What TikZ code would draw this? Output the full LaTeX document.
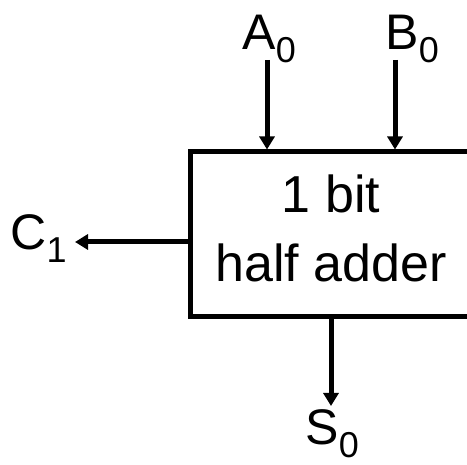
\documentclass[tikz,border=0pt]{standalone}
\usepackage{fontspec}
\setmainfont{Liberation Sans}
\usetikzlibrary{arrows.meta,positioning,calc}
\newcommand{\lowsub}[1]{\raisebox{-6.5pt}{\fontsize{18}{18}\selectfont #1}}
\tikzset{
  % Base style
  diagram base/.style={
    x=0.5pt, y=0.5pt,
    every node/.style={font=\fontsize{25}{30}\selectfont, inner sep=0pt},
  },
  % Adder block
  adder block/.style={rectangle, draw, line width=2.5pt, minimum width=141pt, minimum height=82.5pt},
  block text/.style={align=center, font=\fontsize{26}{34.5}\selectfont},
  % Signal label and wire
  signal label/.style={anchor=base west},
  signal wire/.style={line width=2.5pt, -{Triangle[length=6.5pt,width=7.5pt]}},
}

\begin{document}
\begin{tikzpicture}[diagram base]
\useasboundingbox (0,0) rectangle (467,465);

% Adder block (right side runs off the page)
\node[adder block] (HA) at (331,230.5) {};
\node[block text] (HAtext) at (331,236.5) {1 bit\\half adder};

% Signal labels
\node[signal label] (A0) at (242,415) {A\lowsub{0}};
\node[signal label] (B0) at (385,415) {B\lowsub{0}};
\node[signal label] (C1) at (10,215) {C\lowsub{1}};
\node[signal label] (S0) at (305,20) {S\lowsub{0}};

% Free wire ends
\coordinate (Ain) at (267,405);
\coordinate (Bin) at (395,405);
\coordinate (Cout) at (75,223);
\coordinate (Sout) at (331,59);

% Inputs
\draw[signal wire] (Ain) -- (Ain |- HA.north);
\draw[signal wire] (Bin) -- (Bin |- HA.north);

% Outputs
\draw[signal wire] (Cout -| HA.west) -- (Cout);
\draw[signal wire] (Sout |- HA.south) -- (Sout);
\end{tikzpicture}
\end{document}
